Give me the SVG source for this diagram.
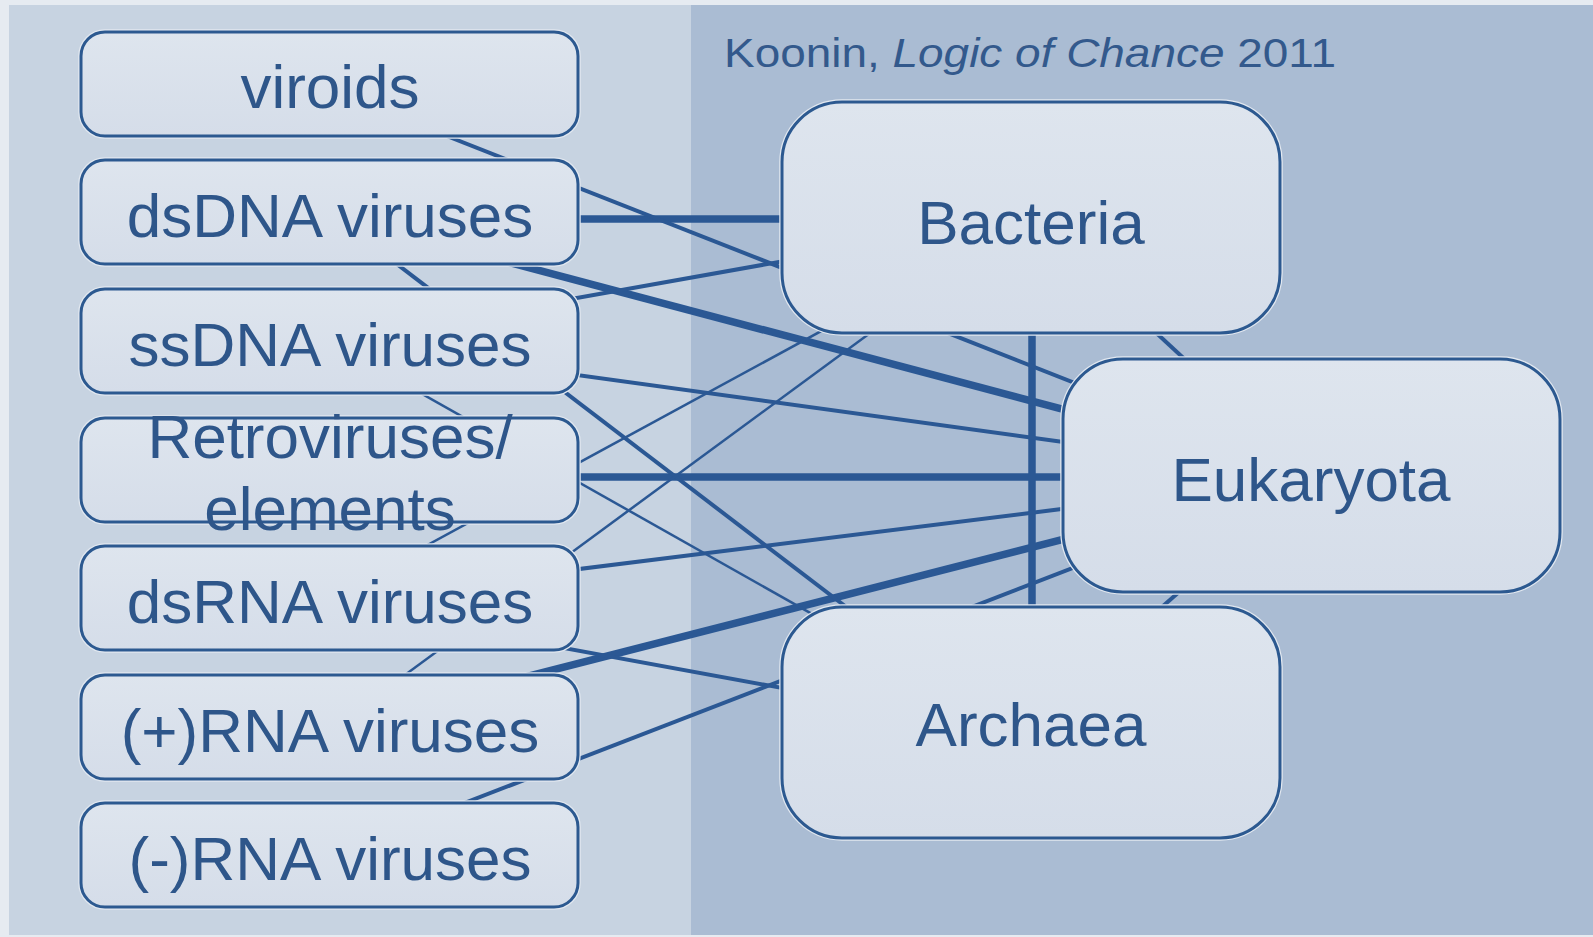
<svg xmlns="http://www.w3.org/2000/svg" width="1593" height="937" viewBox="0 0 1593 937">
<defs>
<linearGradient id="boxFill" x1="0" y1="0" x2="0" y2="1">
<stop offset="0" stop-color="#dee5ee"/>
<stop offset="1" stop-color="#d5dde9"/>
</linearGradient>
<style>
.halo{fill:none;stroke:#e2e8f0;stroke-width:5.5}
.box{fill:url(#boxFill);stroke:#2c5990;stroke-width:3}
.lbl{font-family:"Liberation Sans",Arial,Helvetica,sans-serif;font-size:62px;fill:#2e568a;text-anchor:middle}
.title{font-family:"Liberation Sans",Arial,Helvetica,sans-serif;font-size:40px;fill:#33598c}
.c{stroke:#2b5894;fill:none;stroke-linecap:butt}
.thick{stroke-width:7.5}
.med{stroke-width:4}
.thin{stroke-width:2.5}
</style>
</defs>
<g id="background">
<rect x="0" y="0" width="1593" height="937" fill="#e6ebf1"/>
<rect x="9" y="5" width="682" height="930" fill="#c7d3e1"/>
<rect x="691" y="5" width="902" height="930" fill="#aabcd3"/>
</g>
<g id="connectors">
<line class="c thick" x1="330" y1="219" x2="1031" y2="219"/>
<line class="c thick" x1="330" y1="215" x2="1311" y2="475"/>
<line class="c thick" x1="330" y1="477" x2="1311" y2="477"/>
<line class="c thick" x1="330" y1="727" x2="1311" y2="476"/>
<line class="c thick" x1="1032" y1="217" x2="1032" y2="722"/>
<line class="c med" x1="330" y1="90" x2="1311" y2="476"/>
<line class="c med" x1="330" y1="342" x2="1031" y2="217"/>
<line class="c med" x1="330" y1="341" x2="1311" y2="476"/>
<line class="c med" x1="330" y1="213" x2="997" y2="722"/>
<line class="c med" x1="330" y1="600" x2="1311" y2="478"/>
<line class="c med" x1="330" y1="605" x2="1000" y2="728"/>
<line class="c med" x1="330" y1="855" x2="1311" y2="476"/>
<line class="c med" x1="1031" y1="217" x2="1311" y2="476"/>
<line class="c med" x1="1311" y1="476" x2="1031" y2="722"/>
<line class="c thin" x1="330" y1="342" x2="1000" y2="720"/>
<line class="c thin" x1="330" y1="598" x2="1031" y2="217"/>
<line class="c thin" x1="330" y1="730" x2="1028" y2="217"/>
</g>
<g id="viroids">
<rect class="halo" x="81" y="32" width="497" height="104" rx="24"/>
<rect class="box" x="81" y="32" width="497" height="104" rx="24"/>
<text class="lbl" x="330" y="108">viroids</text>
</g>
<g id="dsDNA">
<rect class="halo" x="81" y="160" width="497" height="104" rx="24"/>
<rect class="box" x="81" y="160" width="497" height="104" rx="24"/>
<text class="lbl" x="330" y="237">dsDNA viruses</text>
</g>
<g id="ssDNA">
<rect class="halo" x="81" y="289" width="497" height="104" rx="24"/>
<rect class="box" x="81" y="289" width="497" height="104" rx="24"/>
<text class="lbl" x="330" y="366">ssDNA viruses</text>
</g>
<g id="retro">
<rect class="halo" x="81" y="418" width="497" height="104" rx="24"/>
<rect class="box" x="81" y="418" width="497" height="104" rx="24"/>
<text class="lbl" x="330" y="458">Retroviruses/</text>
<text class="lbl" x="330" y="530">elements</text>
</g>
<g id="dsRNA">
<rect class="halo" x="81" y="546" width="497" height="104" rx="24"/>
<rect class="box" x="81" y="546" width="497" height="104" rx="24"/>
<text class="lbl" x="330" y="623">dsRNA viruses</text>
</g>
<g id="plusRNA">
<rect class="halo" x="81" y="675" width="497" height="104" rx="24"/>
<rect class="box" x="81" y="675" width="497" height="104" rx="24"/>
<text class="lbl" x="330" y="752">(+)RNA viruses</text>
</g>
<g id="minusRNA">
<rect class="halo" x="81" y="803" width="497" height="104" rx="24"/>
<rect class="box" x="81" y="803" width="497" height="104" rx="24"/>
<text class="lbl" x="330" y="880">(-)RNA viruses</text>
</g>
<g id="bacteria">
<rect class="halo" x="782" y="102" width="498" height="231" rx="60"/>
<rect class="box" x="782" y="102" width="498" height="231" rx="60"/>
<text class="lbl" x="1031" y="244">Bacteria</text>
</g>
<g id="eukaryota">
<rect class="halo" x="1063" y="359" width="497" height="233" rx="60"/>
<rect class="box" x="1063" y="359" width="497" height="233" rx="60"/>
<text class="lbl" x="1311" y="501">Eukaryota</text>
</g>
<g id="archaea">
<rect class="halo" x="782" y="607" width="498" height="231" rx="60"/>
<rect class="box" x="782" y="607" width="498" height="231" rx="60"/>
<text class="lbl" x="1031" y="746">Archaea</text>
</g>
<g id="title">
<text class="title" x="724" y="67" textLength="612" lengthAdjust="spacingAndGlyphs">Koonin, <tspan font-style="italic">Logic of Chance</tspan> 2011</text>
</g>
</svg>
